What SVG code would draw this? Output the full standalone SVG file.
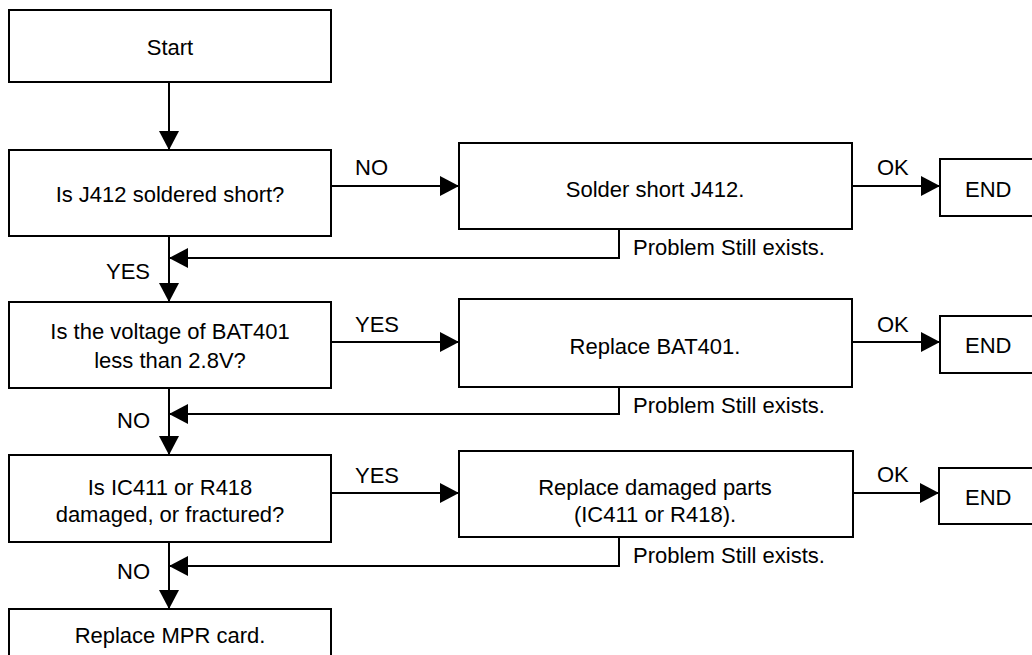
<svg xmlns="http://www.w3.org/2000/svg" width="1032" height="655" viewBox="0 0 1032 655">
<style>
.box{fill:#fff;stroke:#000;stroke-width:2}
.t{font-family:"Liberation Sans",Arial,sans-serif;font-size:22px;fill:#000}
.c{text-anchor:middle}
.e{text-anchor:end}
.ln{fill:none;stroke:#000;stroke-width:2}
</style>
<defs>
<marker id="ah" markerWidth="20" markerHeight="20" refX="19" refY="10" orient="auto" markerUnits="userSpaceOnUse" viewBox="0 0 20 20">
<path d="M0,0 L19,10 L0,20 Z" fill="#000"/>
</marker>
</defs>
<rect width="1032" height="655" fill="#fff"/>
<g id="connectors">
<line class="ln" x1="169" y1="82" x2="169" y2="150" marker-end="url(#ah)"/>
<line class="ln" x1="169" y1="236" x2="169" y2="302" marker-end="url(#ah)"/>
<line class="ln" x1="169" y1="388" x2="169" y2="455" marker-end="url(#ah)"/>
<line class="ln" x1="169" y1="542" x2="169" y2="609" marker-end="url(#ah)"/>
<line class="ln" x1="331" y1="186" x2="459" y2="186" marker-end="url(#ah)"/>
<line class="ln" x1="331" y1="342" x2="459" y2="342" marker-end="url(#ah)"/>
<line class="ln" x1="331" y1="493" x2="459" y2="493" marker-end="url(#ah)"/>
<line class="ln" x1="852" y1="186" x2="940" y2="186" marker-end="url(#ah)"/>
<line class="ln" x1="852" y1="342" x2="940" y2="342" marker-end="url(#ah)"/>
<line class="ln" x1="853" y1="493" x2="939" y2="493" marker-end="url(#ah)"/>
<path class="ln" d="M619,229 V258 H169" marker-end="url(#ah)"/>
<path class="ln" d="M619,387 V414 H169" marker-end="url(#ah)"/>
<path class="ln" d="M619,537 V566 H169" marker-end="url(#ah)"/>
<text class="t e" x="150" y="279">YES</text>
<text class="t e" x="150" y="428">NO</text>
<text class="t e" x="150" y="579">NO</text>
<text class="t" x="355" y="175">NO</text>
<text class="t" x="355" y="332">YES</text>
<text class="t" x="355" y="483">YES</text>
<text class="t" x="877" y="175">OK</text>
<text class="t" x="877" y="332">OK</text>
<text class="t" x="877" y="482">OK</text>
<text class="t" x="633" y="255">Problem Still exists.</text>
<text class="t" x="633" y="413">Problem Still exists.</text>
<text class="t" x="633" y="563">Problem Still exists.</text>
</g>
<g id="start">
<rect class="box" x="9" y="10" width="322" height="72"/>
<text class="t c" x="170" y="55">Start</text>
</g>
<g id="q1">
<rect class="box" x="9" y="150" width="322" height="86"/>
<text class="t c" x="170" y="202">Is J412 soldered short?</text>
</g>
<g id="q2">
<rect class="box" x="9" y="302" width="322" height="86"/>
<text class="t c" x="170" y="339">Is the voltage of BAT401</text>
<text class="t c" x="170" y="368">less than 2.8V?</text>
</g>
<g id="q3">
<rect class="box" x="9" y="455" width="322" height="87"/>
<text class="t c" x="170" y="495">Is IC411 or R418</text>
<text class="t c" x="170" y="522">damaged, or fractured?</text>
</g>
<g id="mpr">
<rect class="box" x="9" y="609" width="322" height="80"/>
<text class="t c" x="170" y="643">Replace MPR card.</text>
</g>
<g id="a1">
<rect class="box" x="459" y="143" width="393" height="86"/>
<text class="t c" x="655" y="197">Solder short J412.</text>
</g>
<g id="a2">
<rect class="box" x="459" y="299" width="393" height="88"/>
<text class="t c" x="655" y="354">Replace BAT401.</text>
</g>
<g id="a3">
<rect class="box" x="459" y="451" width="394" height="86"/>
<text class="t c" x="655" y="495">Replace damaged parts</text>
<text class="t c" x="655" y="522">(IC411 or R418).</text>
</g>
<g id="end1">
<rect class="box" x="940" y="159" width="110" height="57"/>
<text class="t" x="965" y="197">END</text>
</g>
<g id="end2">
<rect class="box" x="940" y="316" width="110" height="57"/>
<text class="t" x="965" y="353">END</text>
</g>
<g id="end3">
<rect class="box" x="939" y="468" width="110" height="56"/>
<text class="t" x="965" y="505">END</text>
</g>
</svg>
